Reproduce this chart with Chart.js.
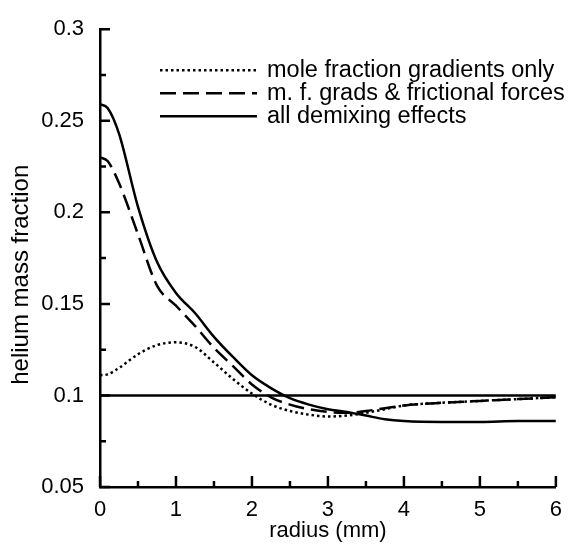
<!DOCTYPE html>
<html>
<head>
<meta charset="utf-8">
<script src="https://cdn.jsdelivr.net/npm/chart.js@4.4.0/dist/chart.umd.min.js"></script>
<style>
  html, body { margin: 0; padding: 0; background: #fff; }
</style>
</head>
<body>
<canvas id="chart" width="572" height="557"></canvas>
<script>
const radius = [0, 0.1, 0.25, 0.5, 0.75, 1, 1.25, 1.5, 1.75, 2, 2.25, 2.5, 2.75, 3, 3.25, 3.5, 3.75, 4, 4.5, 5, 5.5, 6];

// helium mass fraction for each model
const moleFracOnly = [0.111, 0.1115, 0.115, 0.1225, 0.1275, 0.129, 0.1265, 0.118, 0.109, 0.101, 0.095, 0.0915, 0.0895, 0.0885, 0.089, 0.0905, 0.0925, 0.0945, 0.096, 0.097, 0.098, 0.099];
const mfGradsFriction = [0.230, 0.228, 0.216, 0.188, 0.160, 0.149, 0.138, 0.126, 0.116, 0.106, 0.099, 0.095, 0.0925, 0.091, 0.0905, 0.0915, 0.093, 0.0945, 0.096, 0.097, 0.098, 0.099];
const allDemixing = [0.259, 0.257, 0.243, 0.203, 0.173, 0.156, 0.145, 0.132, 0.121, 0.111, 0.104, 0.0985, 0.095, 0.0925, 0.091, 0.089, 0.087, 0.086, 0.0855, 0.0855, 0.086, 0.086];

// undemixed reference level
const refX = [0, 6];
const refY = [0.1, 0.1];

const seriesNames = ['mole fraction gradients only', 'm. f. grads & frictional forces', 'all demixing effects'];

const FONT = '"Liberation Sans", Arial, Helvetica, sans-serif';
Chart.defaults.color = '#000';
Chart.defaults.font.family = FONT;

function pts(xs, ys) {
  return xs.map((x, i) => ({ x: x, y: ys[i] }));
}

// inward tick marks, majors from the scale ticks, minors half way
const inwardTicks = {
  id: 'inwardTicks',
  afterDatasetsDraw(chart) {
    const { ctx, chartArea: a, scales } = chart;
    const x = scales.x, y = scales.y;
    ctx.save();
    ctx.strokeStyle = '#000';
    ctx.lineWidth = 2.5;
    ctx.beginPath();
    x.ticks.forEach((t, i) => {
      const px = x.getPixelForValue(t.value);
      ctx.moveTo(px, a.bottom);
      ctx.lineTo(px, a.bottom - 11);
      if (i < x.ticks.length - 1) {
        const mx = x.getPixelForValue((t.value + x.ticks[i + 1].value) / 2);
        ctx.moveTo(mx, a.bottom);
        ctx.lineTo(mx, a.bottom - 6);
      }
    });
    y.ticks.forEach((t, i) => {
      const py = y.getPixelForValue(t.value);
      ctx.moveTo(a.left, py);
      ctx.lineTo(a.left + 10, py);
      if (i < y.ticks.length - 1) {
        const my = y.getPixelForValue((t.value + y.ticks[i + 1].value) / 2);
        ctx.moveTo(a.left, my);
        ctx.lineTo(a.left + 6, my);
      }
    });
    ctx.stroke();
    ctx.restore();
  }
};

// key in the upper right, line samples use the dataset styles
const keyBox = {
  id: 'keyBox',
  afterDraw(chart) {
    const { ctx, chartArea: a } = chart;
    ctx.save();
    ctx.font = '23.5px ' + FONT;
    ctx.fillStyle = '#000';
    ctx.textBaseline = 'alphabetic';
    chart.data.datasets.forEach((ds, i) => {
      if (!ds.label) return;
      const base = a.top + 48 + i * 23;
      ctx.strokeStyle = ds.borderColor;
      ctx.lineWidth = ds.borderWidth;
      ctx.setLineDash(ds.borderDash || []);
      ctx.beginPath();
      ctx.moveTo(a.left + 60, base - 7);
      ctx.lineTo(a.left + 157, base - 7);
      ctx.stroke();
      ctx.fillText(ds.label, a.left + 167, base);
    });
    ctx.restore();
  }
};

new Chart(document.getElementById('chart'), {
  type: 'line',
  data: {
    datasets: [
      {
        label: seriesNames[0],
        data: pts(radius, moleFracOnly),
        borderColor: '#000',
        borderWidth: 2.5,
        borderDash: [2.5, 3],
        pointRadius: 0,
        cubicInterpolationMode: 'monotone'
      },
      {
        label: seriesNames[1],
        data: pts(radius, mfGradsFriction),
        borderColor: '#000',
        borderWidth: 2.5,
        borderDash: [16, 7],
        pointRadius: 0,
        cubicInterpolationMode: 'monotone'
      },
      {
        label: seriesNames[2],
        data: pts(radius, allDemixing),
        borderColor: '#000',
        borderWidth: 2.5,
        pointRadius: 0,
        cubicInterpolationMode: 'monotone'
      },
      {
        label: '',
        data: pts(refX, refY),
        borderColor: '#000',
        borderWidth: 2.5,
        pointRadius: 0
      }
    ]
  },
  options: {
    responsive: false,
    animation: false,
    layout: { padding: { left: 0, top: 20, right: 8, bottom: 0 } },
    plugins: {
      legend: { display: false },
      tooltip: { enabled: false }
    },
    scales: {
      x: {
        type: 'linear',
        min: 0,
        max: 6,
        grid: { display: false, drawTicks: false },
        border: { display: true, color: '#000', width: 2.5 },
        ticks: {
          stepSize: 1,
          padding: 10,
          font: { size: 22 },
          callback: v => String(v)
        },
        title: {
          display: true,
          text: 'radius (mm)',
          font: { size: 22 },
          padding: { top: 0, bottom: 13 }
        },
        afterFit: s => { s.height = 70; }
      },
      y: {
        type: 'linear',
        min: 0.05,
        max: 0.3,
        grid: { display: false, drawTicks: false },
        border: { display: true, color: '#000', width: 2.5 },
        ticks: {
          stepSize: 0.05,
          padding: 16,
          font: { size: 22 },
          callback: v => String(+v.toFixed(2))
        },
        title: {
          display: true,
          text: 'helium mass fraction     ',
          font: { size: 24 },
          padding: { top: 7, bottom: 0 }
        },
        afterFit: s => { s.width = 100; }
      }
    }
  },
  plugins: [inwardTicks, keyBox]
});
</script>
</body>
</html>
